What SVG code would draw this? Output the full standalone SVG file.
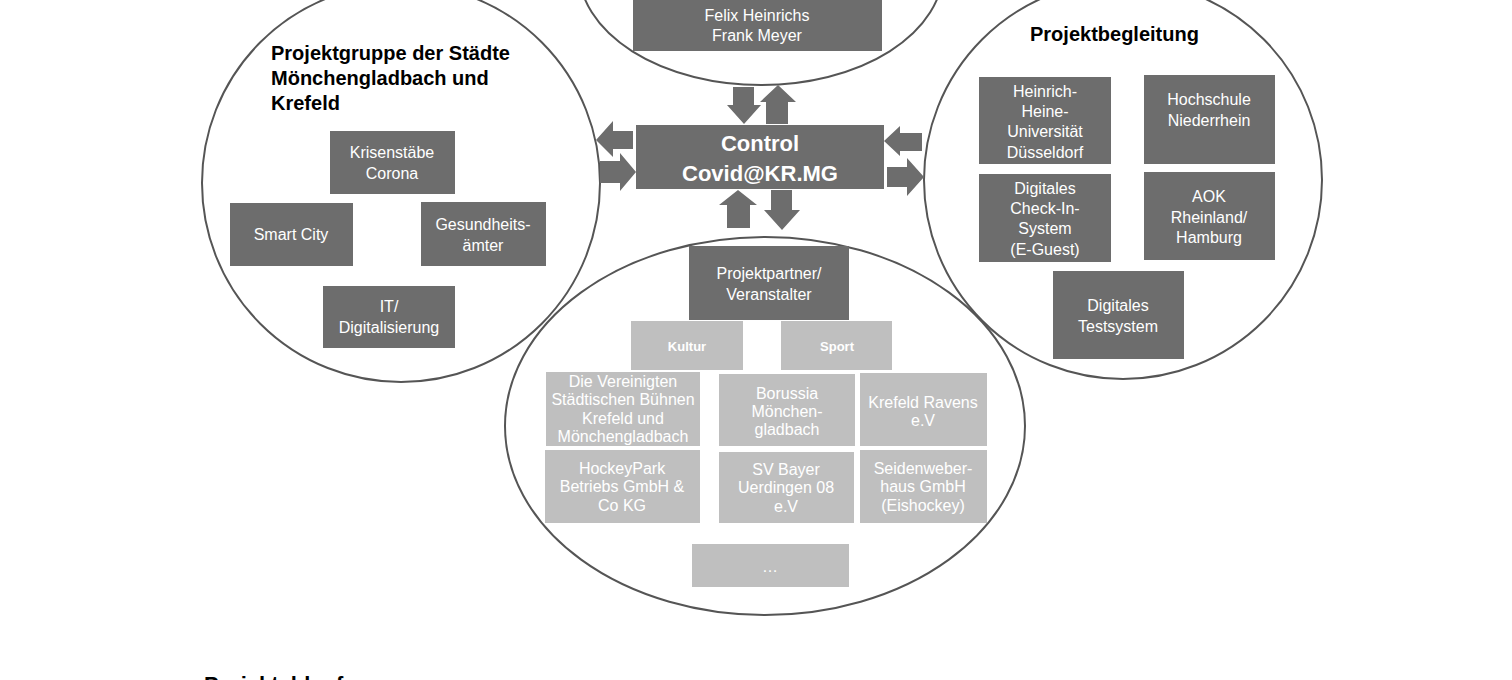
<svg xmlns="http://www.w3.org/2000/svg" width="1512" height="680" viewBox="0 0 1512 680">
<style>
text{font-family:"Liberation Sans",Arial,sans-serif;text-anchor:middle}
.c{fill:#fff;stroke:#555;stroke-width:2}
.d{fill:#6d6d6d}
.l{fill:#bfbfbf}
.t{fill:#fff;font-size:16px}
.h{fill:#000;font-size:20px;font-weight:bold;text-anchor:start}
.a{fill:#6d6d6d}
</style>
<rect width="1512" height="680" fill="#fff"/>
<g id="circles">
<ellipse class="c" cx="761" cy="-30" rx="182" ry="115"/>
<ellipse class="c" cx="401" cy="183" rx="199" ry="199"/>
<ellipse class="c" cx="1123" cy="180" rx="199" ry="199"/>
<ellipse class="c" cx="765" cy="426" rx="260" ry="189"/>
</g>
<g id="top"><rect class="d" x="633" y="-10" width="249" height="61"/>
<text class="t" x="757" y="0">Krefeld</text><text class="t" x="757" y="21">Felix Heinrichs</text><text class="t" x="757" y="41">Frank Meyer</text></g>
<g id="center"><rect class="d" x="636" y="125" width="248" height="64"/>
<text x="760" y="151" fill="#fff" font-size="22" font-weight="bold">Control</text>
<text x="760" y="181" fill="#fff" font-size="22" font-weight="bold">Covid@KR.MG</text></g>
<g id="connectors">
<polygon class="a" points="733,87 754,87 754,105 761,105 744,124 727,105 733,105"/>
<polygon class="a" points="778,85 796,102 788,102 788,124 766,124 766,102 760,102"/>
<polygon class="a" points="596,140 613,121 613,131 633,131 633,149 613,149 613,157"/>
<polygon class="a" points="600,161 620,161 620,153 636,172 620,191 620,183 600,183"/>
<polygon class="a" points="884,141 900,126 900,133 922,133 922,151 900,151 900,156"/>
<polygon class="a" points="887,167 907,167 907,158 924,177 907,196 907,187 887,187"/>
<polygon class="a" points="738,190 757,205 750,205 750,228 727,228 727,205 719,205"/>
<polygon class="a" points="771,190 792,190 792,210 800,210 782,230 764,210 771,210"/>
</g>
<g id="left">
<text class="h" x="271" y="60">Projektgruppe der Städte</text>
<text class="h" x="271" y="85">Mönchengladbach und</text>
<text class="h" x="271" y="110">Krefeld</text>
<g id="krisen"><rect class="d" x="330" y="131" width="125" height="63"/><text class="t" x="392" y="158">Krisenstäbe</text><text class="t" x="392" y="179">Corona</text></g>
<g id="smart"><rect class="d" x="230" y="203" width="123" height="63"/><text class="t" x="291" y="240">Smart City</text></g>
<g id="gesund"><rect class="d" x="421" y="202" width="125" height="64"/><text class="t" x="483" y="230">Gesundheits-</text><text class="t" x="483" y="251">ämter</text></g>
<g id="it"><rect class="d" x="323" y="286" width="132" height="62"/><text class="t" x="389" y="312">IT/</text><text class="t" x="389" y="333">Digitalisierung</text></g>
</g>
<g id="right">
<text class="h" x="1030" y="41">Projektbegleitung</text>
<g id="hhu"><rect class="d" x="979" y="77" width="132" height="87"/><text class="t" x="1045" y="97">Heinrich-</text><text class="t" x="1045" y="117">Heine-</text><text class="t" x="1045" y="137">Universität</text><text class="t" x="1045" y="158">Düsseldorf</text></g>
<g id="hsnr"><rect class="d" x="1144" y="75" width="131" height="89"/><text class="t" x="1209" y="105">Hochschule</text><text class="t" x="1209" y="126">Niederrhein</text></g>
<g id="checkin"><rect class="d" x="979" y="174" width="132" height="88"/><text class="t" x="1045" y="194">Digitales</text><text class="t" x="1045" y="214">Check-In-</text><text class="t" x="1045" y="234">System</text><text class="t" x="1045" y="255">(E-Guest)</text></g>
<g id="aok"><rect class="d" x="1144" y="172" width="131" height="88"/><text class="t" x="1209" y="202">AOK</text><text class="t" x="1209" y="223">Rheinland/</text><text class="t" x="1209" y="243">Hamburg</text></g>
<g id="test"><rect class="d" x="1053" y="271" width="131" height="88"/><text class="t" x="1118" y="311">Digitales</text><text class="t" x="1118" y="332">Testsystem</text></g>
</g>
<g id="bottom">
<g id="pp"><rect class="d" x="689" y="246" width="160" height="74"/><text class="t" x="769" y="279">Projektpartner/</text><text class="t" x="769" y="300">Veranstalter</text></g>
<g id="kultur"><rect class="l" x="631" y="321" width="112" height="49"/><text x="687" y="351" fill="#fff" font-size="13" font-weight="bold">Kultur</text></g>
<g id="sport"><rect class="l" x="781" y="321" width="111" height="49"/><text x="837" y="351" fill="#fff" font-size="13" font-weight="bold">Sport</text></g>
<g id="buehnen"><rect class="l" x="546" y="372" width="154" height="74"/><text class="t" x="623" y="387" font-size="13.5">Die Vereinigten</text><text class="t" x="623" y="405" font-size="13.5">Städtischen Bühnen</text><text class="t" x="623" y="424" font-size="13.5">Krefeld und</text><text class="t" x="623" y="442" font-size="13.5">Mönchengladbach</text></g>
<g id="borussia"><rect class="l" x="719" y="374" width="136" height="72"/><text class="t" x="787" y="399" font-size="14.5">Borussia</text><text class="t" x="787" y="417" font-size="14.5">Mönchen-</text><text class="t" x="787" y="435" font-size="14.5">gladbach</text></g>
<g id="ravens"><rect class="l" x="860" y="373" width="127" height="73"/><text class="t" x="923" y="408" font-size="14.5">Krefeld Ravens</text><text class="t" x="923" y="426" font-size="14.5">e.V</text></g>
<g id="hockey"><rect class="l" x="545" y="450" width="155" height="73"/><text class="t" x="622" y="474" font-size="14.5">HockeyPark</text><text class="t" x="622" y="492" font-size="14.5">Betriebs GmbH &amp;</text><text class="t" x="622" y="511" font-size="14.5">Co KG</text></g>
<g id="bayer"><rect class="l" x="719" y="452" width="135" height="71"/><text class="t" x="786" y="475" font-size="14.5">SV Bayer</text><text class="t" x="786" y="493" font-size="14.5">Uerdingen 08</text><text class="t" x="786" y="512" font-size="14.5">e.V</text></g>
<g id="seiden"><rect class="l" x="860" y="450" width="127" height="73"/><text class="t" x="923" y="474" font-size="14.5">Seidenweber-</text><text class="t" x="923" y="492" font-size="14.5">haus GmbH</text><text class="t" x="923" y="511" font-size="14.5">(Eishockey)</text></g>
<g id="more"><rect class="l" x="692" y="544" width="157" height="43"/><text class="t" x="770" y="572" font-size="15">…</text></g>
</g>
<text x="204" y="692" font-size="22" font-weight="bold" style="text-anchor:start">Projektablauf</text>
</svg>
